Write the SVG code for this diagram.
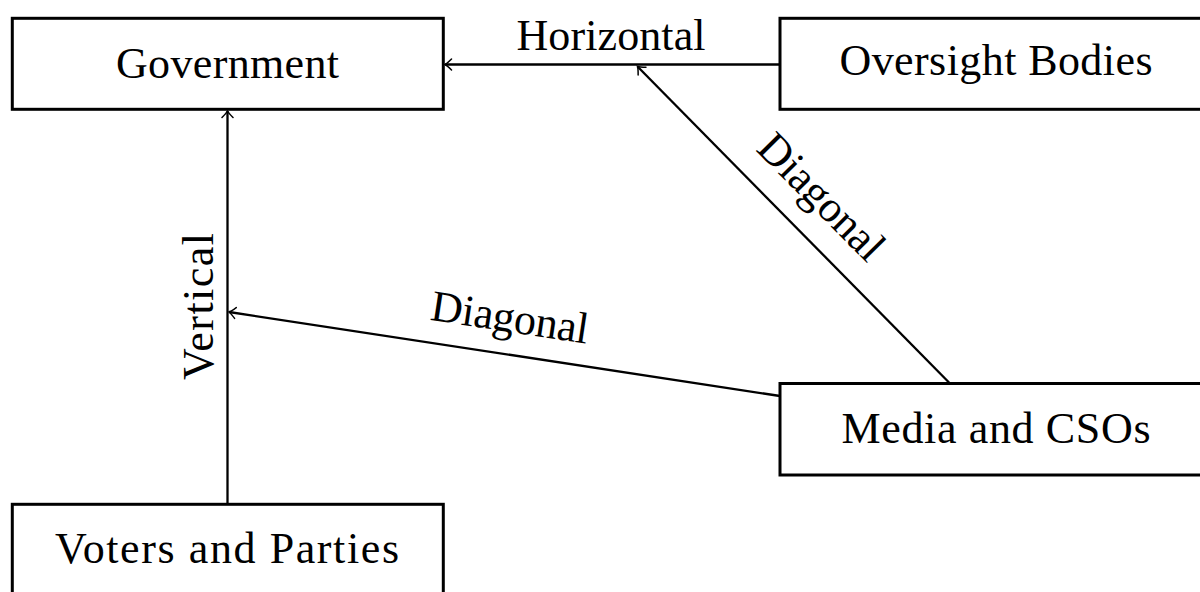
<svg xmlns="http://www.w3.org/2000/svg" width="1200" height="592" viewBox="0 0 1200 592">
  <style>
    .box { fill: #ffffff; stroke: #000000; stroke-width: 3; }
    .lbl { font-family: "Liberation Serif", "Times New Roman", serif; font-size: 44px; fill: #000000; text-anchor: middle; }
    .edge { fill: none; stroke: #000000; stroke-width: 2.3; marker-end: url(#arr); }
  </style>
  <defs>
    <marker id="arr" markerUnits="userSpaceOnUse" markerWidth="14" markerHeight="14" viewBox="-8 -7 10 14" refX="0" refY="0" orient="auto">
      <path d="M -6.5 -5.5 Q -2 -1 0 0 Q -2 1 -6.5 5.5" fill="none" stroke="#000000" stroke-width="1.5" stroke-linecap="round"/>
    </marker>
  </defs>
  <rect width="1200" height="592" fill="#ffffff"/>
  <g id="connectors">
    <g id="edge-oversight-gov">
      <line class="edge" x1="780" y1="64.5" x2="445" y2="64.5"/>
      <text class="lbl" x="611" y="50" textLength="189" lengthAdjust="spacing">Horizontal</text>
    </g>
    <g id="edge-voters-gov">
      <line class="edge" x1="227.5" y1="504" x2="227.5" y2="111"/>
      <text class="lbl" transform="translate(213 306.5) rotate(-90)" x="0" y="0" textLength="147" lengthAdjust="spacing">Vertical</text>
    </g>
    <g id="edge-media-vertical">
      <line class="edge" x1="780" y1="396" x2="229" y2="312"/>
      <text class="lbl" transform="translate(504.5 354) rotate(8.6)" x="0" y="-22.5" textLength="159" lengthAdjust="spacing">Diagonal</text>
    </g>
    <g id="edge-media-horizontal">
      <line class="edge" x1="950" y1="383.5" x2="637.5" y2="66.5"/>
      <text class="lbl" transform="translate(793.5 224.5) rotate(45.3)" x="0" y="-25" textLength="160" lengthAdjust="spacing">Diagonal</text>
    </g>
  </g>
  <g id="node-government">
    <rect class="box" x="12.3" y="18.3" width="431" height="91"/>
    <text class="lbl" x="227.5" y="78" textLength="223" lengthAdjust="spacing">Government</text>
  </g>
  <g id="node-oversight">
    <rect class="box" x="780" y="18.3" width="431" height="91"/>
    <text class="lbl" x="996" y="75" textLength="313" lengthAdjust="spacing">Oversight Bodies</text>
  </g>
  <g id="node-media">
    <rect class="box" x="780" y="383.5" width="431" height="91.5"/>
    <text class="lbl" x="996" y="442.5" textLength="309" lengthAdjust="spacing">Media and CSOs</text>
  </g>
  <g id="node-voters">
    <rect class="box" x="12.3" y="504.3" width="431" height="91"/>
    <text class="lbl" x="227" y="563" textLength="344" lengthAdjust="spacing">Voters and Parties</text>
  </g>
</svg>
